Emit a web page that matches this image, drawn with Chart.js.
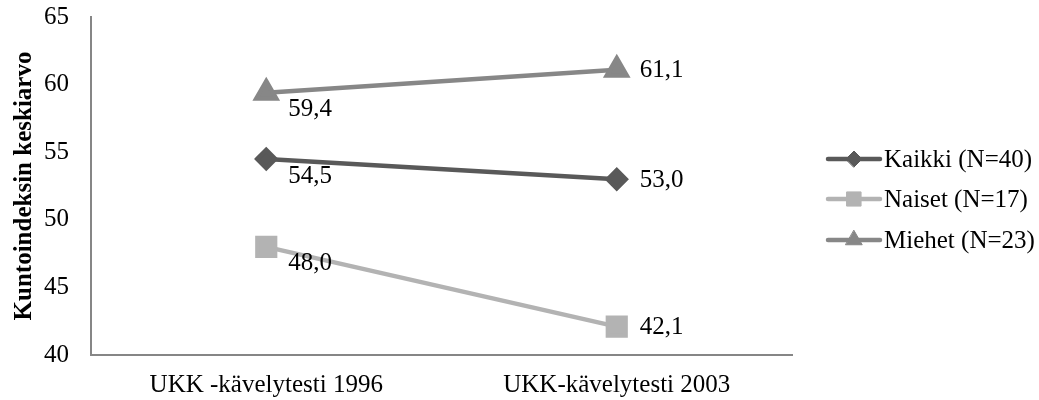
<!DOCTYPE html>
<html>
<head>
<meta charset="utf-8">
<script src="https://cdn.jsdelivr.net/npm/chart.js@4"></script>
<style>
  html, body { margin: 0; padding: 0; background: #fff; }
  #wrap { width: 1039px; height: 400px; position: relative; }
</style>
</head>
<body>
<div id="wrap"><canvas id="c" width="1039" height="400"></canvas></div>
<script>
// Test occasions on the x axis
const categories = ['UKK -kävelytesti 1996', 'UKK-kävelytesti 2003'];

// Mean fitness index per group
const kaikki = [54.5, 53.0];
const naiset = [48.0, 42.1];
const miehet = [59.4, 61.1];

const seriesNames = ['Kaikki (N=40)', 'Naiset (N=17)', 'Miehet (N=23)'];
const yTicks = [40, 45, 50, 55, 60, 65];
const yTitle = 'Kuntoindeksin keskiarvo';

const FONT = '"Liberation Serif", "Times New Roman", serif';
const FS = 25;
const fmt = v => v.toFixed(1).replace('.', ',');

// Value labels: first point below-right, second point to the right
const valueLabels = {
  id: 'valueLabels',
  afterDatasetsDraw(chart) {
    const ctx = chart.ctx;
    ctx.save();
    ctx.font = FS + 'px ' + FONT;
    ctx.fillStyle = '#000';
    ctx.textAlign = 'left';
    ctx.textBaseline = 'middle';
    chart.data.datasets.forEach((ds, di) => {
      chart.getDatasetMeta(di).data.forEach((pt, i) => {
        const txt = fmt(ds.data[i]);
        if (i === 0) ctx.fillText(txt, pt.x + 22, pt.y + 17);
        else ctx.fillText(txt, pt.x + 23, pt.y + 1);
      });
    });
    ctx.restore();
  }
};

// Legend on the right: line with marker, then series name
const sideLegend = {
  id: 'sideLegend',
  afterDraw(chart) {
    const ctx = chart.ctx;
    const x0 = 828, x1 = 880, rows = [159, 199, 240];
    ctx.save();
    chart.data.datasets.forEach((ds, i) => {
      const y = rows[i];
      ctx.strokeStyle = ds.borderColor;
      ctx.lineWidth = 4.5;
      ctx.lineCap = 'round';
      ctx.beginPath();
      ctx.moveTo(x0, y);
      ctx.lineTo(x1, y);
      ctx.stroke();
      ctx.fillStyle = ds.pointBackgroundColor;
      ctx.strokeStyle = ds.pointBackgroundColor;
      ctx.lineWidth = 1;
      Chart.helpers.drawPoint(ctx, {
        pointStyle: ds.pointStyle,
        radius: ds.legendRadius,
        rotation: 0,
        borderWidth: 1
      }, (x0 + x1) / 2, y);
      ctx.fillStyle = '#000';
      ctx.font = FS + 'px ' + FONT;
      ctx.textAlign = 'left';
      ctx.textBaseline = 'middle';
      ctx.fillText(ds.label, 884, y + 1);
    });
    ctx.restore();
  }
};

new Chart(document.getElementById('c'), {
  type: 'line',
  data: {
    labels: categories,
    datasets: [
      {
        label: seriesNames[0], data: kaikki,
        borderColor: '#595959', pointBackgroundColor: '#595959', pointBorderColor: '#595959',
        borderWidth: 4.5, pointStyle: 'rectRot', pointRadius: 9, legendRadius: 8
      },
      {
        label: seriesNames[1], data: naiset,
        borderColor: '#b3b3b3', pointBackgroundColor: '#b3b3b3', pointBorderColor: '#b3b3b3',
        borderWidth: 4.5, pointStyle: 'rect', pointRadius: 12.5, legendRadius: 10
      },
      {
        label: seriesNames[2], data: miehet,
        borderColor: '#878787', pointBackgroundColor: '#878787', pointBorderColor: '#878787',
        borderWidth: 4.5, pointStyle: 'triangle', pointRadius: 11.5, legendRadius: 9.5
      }
    ]
  },
  options: {
    responsive: false,
    animation: false,
    devicePixelRatio: 1,
    layout: { padding: { left: 0, right: 247, top: 17, bottom: 0 } },
    plugins: {
      legend: { display: false },
      tooltip: { enabled: false }
    },
    elements: { line: { tension: 0 }, point: { borderWidth: 1 } },
    scales: {
      x: {
        offset: true,
        grid: { display: false, drawTicks: false },
        border: { display: true, color: '#868686', width: 2 },
        ticks: { color: '#000', font: { family: FONT, size: FS }, padding: 15, maxRotation: 0 },
        afterFit(s) { s.height = 45; s.paddingLeft = 0; s.paddingRight = 0; }
      },
      y: {
        min: 40, max: 65,
        afterBuildTicks(s) { s.ticks = yTicks.map(v => ({ value: v })); },
        grid: { display: false, drawTicks: false },
        border: { display: true, color: '#868686', width: 2 },
        ticks: { color: '#000', font: { family: FONT, size: FS }, padding: 22 },
        title: {
          display: true, text: yTitle, color: '#000',
          font: { family: FONT, size: FS, weight: 'bold' }, padding: { top: 10, bottom: 0 }
        },
        afterFit(s) { s.width = 91; s.paddingTop = 0; s.paddingBottom = 0; }
      }
    }
  },
  plugins: [valueLabels, sideLegend]
});
</script>
</body>
</html>
